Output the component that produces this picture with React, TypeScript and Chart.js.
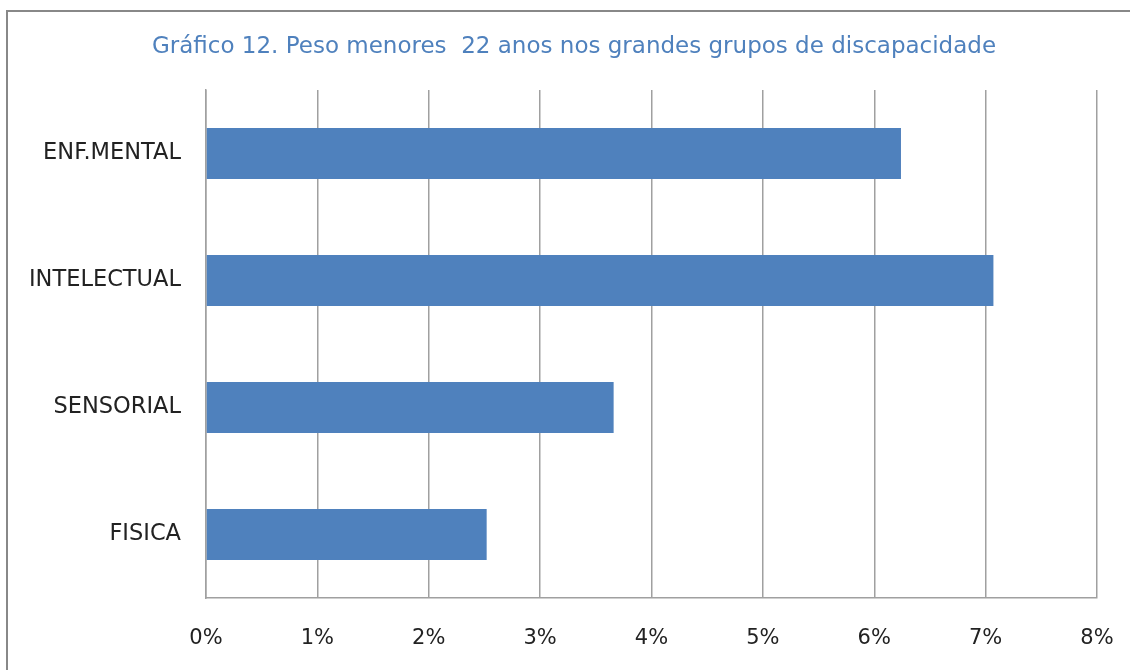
import React, { useEffect, useRef } from "react";
import { Chart, registerables } from "chart.js";

Chart.register(...registerables);

const TITLE = "Gráfico 12. Peso menores  22 anos nos grandes grupos de discapacidade";
const categories = ["ENF.MENTAL", "INTELECTUAL", "SENSORIAL", "FISICA"];
const values = [6.24, 7.07, 3.66, 2.52];
const xTicks = [0, 1, 2, 3, 4, 5, 6, 7, 8];

const FONT = "'DejaVu Sans', 'Open Sans', sans-serif";

const titlePlugin = {
  id: "centeredTitle",
  afterDraw(chart: any, _args: any, opts: any) {
    const ctx = chart.ctx;
    ctx.save();
    ctx.font = `normal ${opts.size}px ${FONT}`;
    ctx.fillStyle = opts.color;
    ctx.textAlign = "center";
    ctx.textBaseline = "middle";
    ctx.fillText(opts.text, opts.x, opts.y);
    ctx.restore();
  },
};

export default function App() {
  const ref = useRef<HTMLCanvasElement | null>(null);

  useEffect(() => {
    if (!ref.current) return;
    const chart = new Chart(ref.current, {
      type: "bar",
      data: {
        labels: categories,
        datasets: [
          {
            data: values,
            backgroundColor: "#4F81BD",
            borderWidth: 0,
            categoryPercentage: 0.8,
            barPercentage: 0.5,
          },
        ],
      },
      plugins: [titlePlugin],
      options: {
        indexAxis: "y",
        animation: false,
        responsive: false,
        maintainAspectRatio: false,
        layout: { padding: { left: 0, right: 33, top: 90, bottom: 0 } },
        plugins: {
          legend: { display: false },
          tooltip: { enabled: false },
          title: { display: false },
          centeredTitle: { text: TITLE, color: "#4F81BD", size: 23, x: 574, y: 47 },
        } as any,
        scales: {
          x: {
            min: 0,
            max: 8,
            afterBuildTicks: (s: any) => {
              s.ticks = xTicks.map((v) => ({ value: v }));
            },
            ticks: {
              callback: (v: any) => v + "%",
              color: "#222",
              font: { family: FONT, size: 21 },
              padding: 28,
              maxRotation: 0,
            },
            grid: { display: true, color: "#A0A0A0", lineWidth: 1.5, drawTicks: false },
            border: { display: true, color: "#A0A0A0", width: 1.5 },
            afterFit: (s: any) => {
              s.height = 72;
              s.paddingLeft = 0;
              s.paddingRight = 0;
            },
          },
          y: {
            ticks: {
              color: "#222",
              font: { family: FONT, size: 22.5 },
              padding: 25,
            },
            grid: { display: false, drawTicks: false },
            border: { display: true, color: "#A0A0A0", width: 1.5 },
            afterFit: (s: any) => {
              s.width = 206;
              s.paddingTop = 0;
              s.paddingBottom = 0;
            },
          },
        },
      },
    });
    return () => chart.destroy();
  }, []);

  return (
    <div style={{ position: "fixed", left: 0, top: 0, width: 1130, height: 670, background: "#fff", overflow: "hidden" }}>
      <canvas ref={ref} width={1130} height={670} style={{ position: "absolute", left: 0, top: 0 }} />
      <div
        style={{
          position: "absolute",
          left: 6,
          top: 10,
          width: 1200,
          height: 800,
          borderTop: "2px solid #888",
          borderLeft: "2px solid #888",
          pointerEvents: "none",
        }}
      />
    </div>
  );
}
